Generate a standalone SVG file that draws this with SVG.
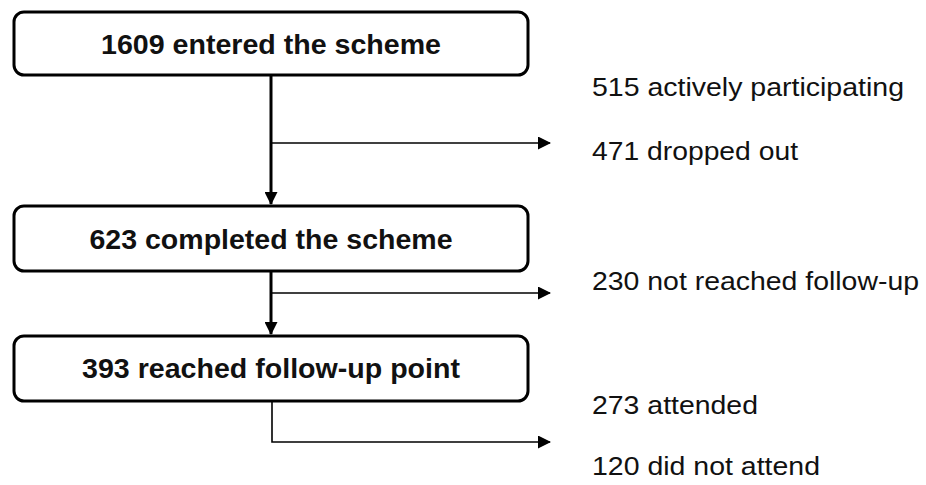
<svg xmlns="http://www.w3.org/2000/svg" width="926" height="485" viewBox="0 0 926 485">
  <defs>
    <style>
      .box { fill: #ffffff; stroke: #000000; stroke-width: 3; }
      .btxt { font-family: "Liberation Sans", Arial, sans-serif; font-weight: bold; font-size: 27.5px; fill: #111111; text-anchor: middle; }
      .ltxt { font-family: "Liberation Sans", Arial, sans-serif; font-size: 25px; fill: #111111; }
      .main { stroke: #000000; stroke-width: 3; fill: none; }
      .branch { stroke: #000000; stroke-width: 1.6; fill: none; }
    </style>
    <marker id="arrow" markerUnits="userSpaceOnUse" viewBox="0 0 13 13" refX="12" refY="6.5" markerWidth="13" markerHeight="13" orient="auto">
      <path d="M0,0 L13,6.5 L0,13 Z" fill="#000000"/>
    </marker>
  </defs>

  <rect width="926" height="485" fill="#ffffff"/>

  <g id="connectors">
    <line class="main" x1="271" y1="75" x2="271" y2="204" marker-end="url(#arrow)"/>
    <line class="branch" x1="271" y1="143" x2="550" y2="143" marker-end="url(#arrow)"/>
    <line class="main" x1="271" y1="271" x2="271" y2="334" marker-end="url(#arrow)"/>
    <line class="branch" x1="271" y1="293" x2="550" y2="293" marker-end="url(#arrow)"/>
    <polyline class="branch" points="272,401 272,442 550,442" marker-end="url(#arrow)"/>
  </g>

  <g id="node-entered">
    <rect class="box" x="14" y="12" width="514" height="63" rx="10" ry="10"/>
    <text class="btxt" x="271" y="53.5" textLength="340" lengthAdjust="spacingAndGlyphs">1609 entered the scheme</text>
  </g>

  <g id="node-completed">
    <rect class="box" x="14" y="206" width="514" height="65" rx="10" ry="10"/>
    <text class="btxt" x="271" y="248.5" textLength="363" lengthAdjust="spacingAndGlyphs">623 completed the scheme</text>
  </g>

  <g id="node-followup">
    <rect class="box" x="14" y="336" width="514" height="65" rx="10" ry="10"/>
    <text class="btxt" x="271" y="378" textLength="378" lengthAdjust="spacingAndGlyphs">393 reached follow-up point</text>
  </g>

  <g id="label-active">
    <text class="ltxt" x="592" y="96" textLength="312" lengthAdjust="spacingAndGlyphs">515 actively participating</text>
  </g>
  <g id="label-dropped">
    <text class="ltxt" x="592" y="160" textLength="206" lengthAdjust="spacingAndGlyphs">471 dropped out</text>
  </g>
  <g id="label-notreached">
    <text class="ltxt" x="592" y="290" textLength="327" lengthAdjust="spacingAndGlyphs">230 not reached follow-up</text>
  </g>
  <g id="label-attended">
    <text class="ltxt" x="592" y="414" textLength="166" lengthAdjust="spacingAndGlyphs">273 attended</text>
  </g>
  <g id="label-notattend">
    <text class="ltxt" x="592" y="475" textLength="228" lengthAdjust="spacingAndGlyphs">120 did not attend</text>
  </g>
</svg>
